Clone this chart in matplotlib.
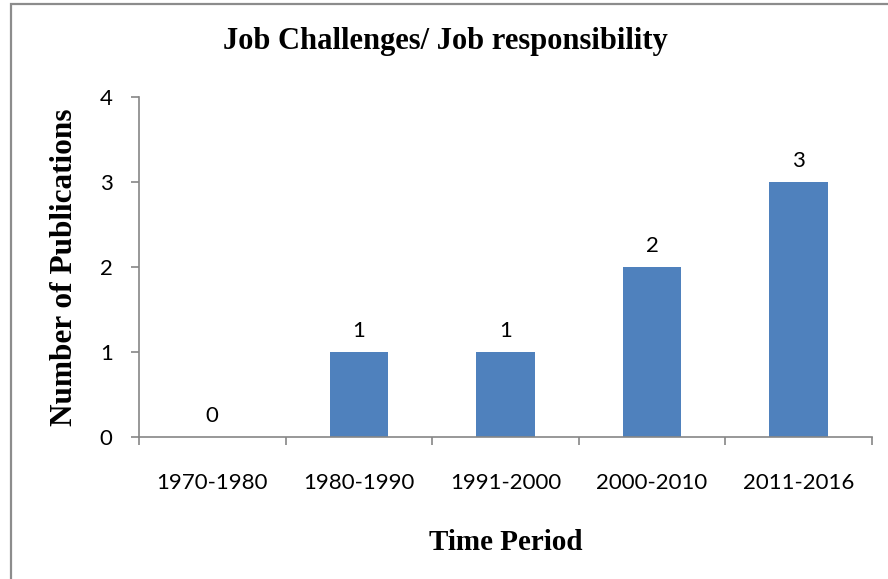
import matplotlib
matplotlib.use("Agg")
import matplotlib.pyplot as plt
from matplotlib.patches import Rectangle

categories = ["1970-1980", "1980-1990", "1991-2000", "2000-2010", "2011-2016"]
values = [0, 1, 1, 2, 3]
yticks = [0, 1, 2, 3, 4]

W, H = 888, 579
fig = plt.figure(figsize=(W / 100, H / 100), dpi=100)
ax = fig.add_axes([139 / W, 1 - 437 / H, (872 - 139) / W, (437 - 97) / H])

x = list(range(len(categories)))
ax.bar(x, values, width=0.40, color="#4F81BD", zorder=2)
ax.set_xlim(-0.5, len(categories) - 0.5)
ax.set_ylim(0, 4)

tick_font = "Lato"
tfs = 16
for xi, v in zip(x, values):
    ax.annotate(str(v), (xi, v), xytext=(0, 8), textcoords="offset points",
                ha="center", va="bottom", fontsize=tfs, family=tick_font)

ax.set_yticks(yticks)
ax.set_yticklabels([str(t) for t in yticks], family=tick_font, fontsize=tfs)
ax.set_xticks(x)
ax.set_xticklabels(categories, family=tick_font, fontsize=tfs)
ax.set_xticks([i - 0.5 for i in range(len(categories) + 1)], minor=True)
ax.tick_params(axis="x", which="major", length=0, pad=26)
ax.tick_params(axis="x", which="minor", length=6, color="#868686", width=1.2)
ax.tick_params(axis="y", length=6, color="#868686", width=1.2, pad=13)

for s in ["top", "right"]:
    ax.spines[s].set_visible(False)
for s in ["left", "bottom"]:
    ax.spines[s].set_color("#868686")
    ax.spines[s].set_linewidth(1.2)

fig.text(445 / W, 1 - 41 / H, "Job Challenges/ Job responsibility",
         family="Liberation Serif", fontweight="bold", fontsize=22,
         ha="center", va="center")
ax.set_ylabel("Number of Publications", family="Liberation Serif",
              fontweight="bold", fontsize=22.5, labelpad=15)
ax.set_xlabel("Time Period", family="Liberation Serif",
              fontweight="bold", fontsize=21, labelpad=26)

fig.patches.append(Rectangle((11 / W, -0.1), 1.2, 1.1 - 4.5 / H,
                             transform=fig.transFigure, fill=False,
                             edgecolor="#8c8c8c", linewidth=1.6))

fig.savefig("out.png", dpi=100)
